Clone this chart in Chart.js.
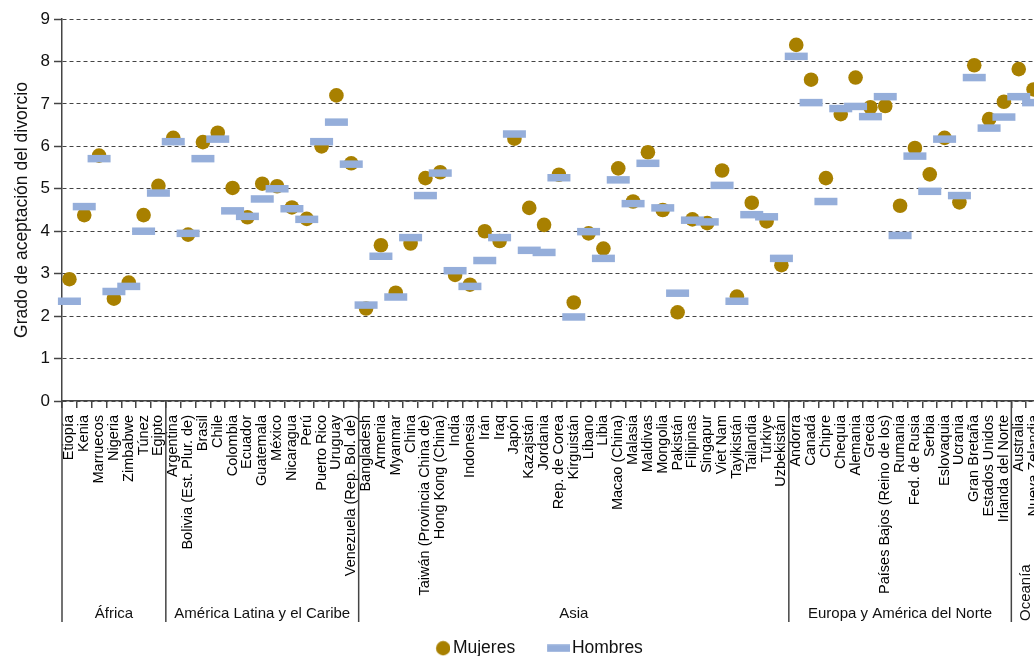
<!DOCTYPE html>
<html>
<head>
<meta charset="utf-8">
<script src="https://cdn.jsdelivr.net/npm/chart.js@4"></script>
<style>
html,body{margin:0;padding:0;background:#fff;overflow:hidden}
#wrap{width:1060px;height:680px}
</style>
</head>
<body>
<div id="wrap"><canvas id="c" width="1060" height="680"></canvas></div>
<script>
const categories = [
  'Etiopía','Kenia','Marruecos','Nigeria','Zimbabwe','Túnez','Egipto',
  'Argentina','Bolivia (Est. Plur. de)','Brasil','Chile','Colombia','Ecuador','Guatemala','México','Nicaragua','Perú','Puerto Rico','Uruguay','Venezuela (Rep. Bol. de)',
  'Bangladesh','Armenia','Myanmar','China','Taiwán (Provincia China de)','Hong Kong (China)','India','Indonesia','Irán','Iraq','Japón','Kazajstán','Jordania','Rep. de Corea','Kirguistán','Líbano','Libia','Macao (China)','Malasia','Maldivas','Mongolia','Pakistán','Filipinas','Singapur','Viet Nam','Tayikistán','Tailandia','Türkiye','Uzbekistán',
  'Andorra','Canadá','Chipre','Chequia','Alemania','Grecia','Países Bajos (Reino de los)','Rumania','Fed. de Rusia','Serbia','Eslovaquia','Ucrania','Gran Bretaña','Estados Unidos','Irlanda del Norte',
  'Australia','Nueva Zelandia'
];
const regionNames = ['África','América Latina y el Caribe','Asia','Europa y América del Norte','Oceanía'];
const regionSizes = [7, 13, 29, 15, 2];
const mujeres = [
  2.87,4.38,5.78,2.41,2.79,4.38,5.07,
  6.20,3.92,6.10,6.32,5.02,4.33,5.12,5.06,4.56,4.29,6.00,7.20,5.60,
  2.18,3.67,2.55,3.71,5.25,5.39,2.97,2.74,4.00,3.77,6.18,4.55,4.15,5.33,2.32,3.95,3.59,5.48,4.70,5.86,4.50,2.09,4.28,4.19,5.43,2.46,4.67,4.23,3.20,
  8.39,7.57,5.25,6.76,7.62,6.92,6.95,4.60,5.96,5.34,6.20,4.68,7.91,6.64,7.05,
  7.82,7.34
];
const hombres = [
  2.35,4.58,5.71,2.58,2.70,4.00,4.90,
  6.11,3.95,5.71,6.17,4.48,4.35,4.76,5.00,4.53,4.28,6.11,6.57,5.58,
  2.26,3.41,2.45,3.85,4.84,5.37,3.07,2.70,3.31,3.85,6.29,3.55,3.50,5.26,1.98,3.99,3.36,5.21,4.65,5.60,4.55,2.54,4.26,4.22,5.08,2.35,4.39,4.34,3.36,
  8.12,7.03,4.70,6.89,6.94,6.70,7.17,3.90,5.77,4.94,6.17,4.84,7.62,6.43,6.69,
  7.17,7.03
];
const yTicks = [0,1,2,3,4,5,6,7,8,9];
const seriesNames = ['Mujeres','Hombres'];
const yTitle = 'Grado de aceptación del divorcio';

const GOLD = '#A88000';
const BLUE = '#95AEDA';
const FAMILY = "'Liberation Sans', Arial, sans-serif";

function makeCircleIcon() {
  const c = document.createElement('canvas');
  c.width = 57; c.height = 16;
  const g = c.getContext('2d');
  g.fillStyle = GOLD;
  g.beginPath(); g.arc(50, 8, 7.2, 0, Math.PI * 2); g.fill();
  return c;
}
function makeBarIcon() {
  const c = document.createElement('canvas');
  c.width = 59; c.height = 8;
  const g = c.getContext('2d');
  g.fillStyle = BLUE;
  g.fillRect(36, 0.25, 23, 7.5);
  return c;
}
const legendIcons = [makeCircleIcon(), makeBarIcon()];
const legendColors = [GOLD, BLUE];

const regionPlugin = {
  id: 'regions',
  afterDraw(chart) {
    const xs = chart.scales.x, ctx = chart.ctx, area = chart.chartArea;
    const n = categories.length;
    const half = (xs.getPixelForValue(1) - xs.getPixelForValue(0)) / 2;
    const bnd = k => k < n ? xs.getPixelForValue(k) - half : xs.getPixelForValue(n - 1) + half;
    const y0 = area.bottom, y1 = area.bottom + 221;
    const bounds = [0];
    let acc = 0;
    regionSizes.forEach(s => { acc += s; bounds.push(acc); });
    ctx.save();
    ctx.strokeStyle = '#444';
    ctx.lineWidth = 1.5;
    bounds.forEach(k => {
      const px = bnd(k);
      ctx.beginPath(); ctx.moveTo(px, y0); ctx.lineTo(px, y1); ctx.stroke();
    });
    ctx.font = '15px ' + FAMILY;
    ctx.fillStyle = '#111';
    regionNames.forEach((name, i) => {
      const l = bnd(bounds[i]), r = bnd(bounds[i + 1]);
      const cx = (l + r) / 2;
      const w = ctx.measureText(name).width;
      if (w < r - l - 6) {
        ctx.textAlign = 'center'; ctx.textBaseline = 'middle';
        ctx.fillText(name, cx, y1 - 8);
      } else {
        ctx.save();
        ctx.translate(cx, y1 - 1);
        ctx.rotate(-Math.PI / 2);
        ctx.textAlign = 'left'; ctx.textBaseline = 'middle';
        ctx.fillText(name, 0, 0);
        ctx.restore();
      }
    });
    ctx.restore();
  }
};

new Chart(document.getElementById('c'), {
  type: 'line',
  data: {
    labels: categories,
    datasets: [
      {
        label: seriesNames[0], data: mujeres, showLine: false,
        pointStyle: 'circle', pointRadius: 7.3, pointHoverRadius: 7.3,
        pointBackgroundColor: GOLD, pointBorderColor: GOLD, pointBorderWidth: 0,
        borderColor: GOLD, backgroundColor: GOLD, order: 2, clip: false
      },
      {
        label: seriesNames[1], data: hombres, showLine: false,
        pointStyle: 'line', pointRadius: 11.5, pointHoverRadius: 11.5,
        pointBorderColor: BLUE, pointBorderWidth: 7.5, pointHoverBorderWidth: 7.5,
        borderColor: BLUE, backgroundColor: BLUE, order: 1, clip: false
      }
    ]
  },
  options: {
    responsive: false,
    animation: false,
    devicePixelRatio: 1,
    events: [],
    layout: { padding: { top: 18, bottom: 13, left: 0, right: 18 } },
    plugins: {
      tooltip: { enabled: false },
      title: { display: false },
      legend: {
        display: true, position: 'bottom', align: 'center',
        labels: {
          usePointStyle: true, pointStyleWidth: 45, boxHeight: 14, padding: 3,
          color: '#111', font: { family: FAMILY, size: 17.5 },
          generateLabels(chart) {
            return chart.data.datasets.map((ds, i) => ({
              text: ds.label, pointStyle: legendIcons[i], fillStyle: legendColors[i],
              strokeStyle: legendColors[i], lineWidth: 0, hidden: false,
              datasetIndex: i, fontColor: '#111'
            }));
          }
        }
      }
    },
    scales: {
      x: {
        type: 'category', offset: true,
        grid: { offset: true, drawOnChartArea: false, drawTicks: true, tickLength: 7,
                color: '#444', lineWidth: 1.5, tickColor: '#444', tickWidth: 1.5 },
        border: { display: true, color: '#444', width: 1.5 },
        ticks: { autoSkip: false, maxRotation: 90, minRotation: 90, padding: 7,
                 color: '#000', font: { family: FAMILY, size: 14.5 } },
        afterFit(s) { s.height = 235.5; s.paddingLeft = 0; s.paddingRight = 0; }
      },
      y: {
        min: yTicks[0], max: yTicks[yTicks.length - 1],
        ticks: { stepSize: 1, padding: 4, color: '#111', font: { family: FAMILY, size: 17 } },
        grid: { color: '#444', lineWidth: 1, drawTicks: true, tickLength: 8,
                tickColor: '#444', tickWidth: 1.5, tickBorderDash: [] },
        border: { display: true, color: '#444', width: 1.5, dash: [4, 3] },
        title: { display: true, text: yTitle, color: '#111',
                 font: { family: FAMILY, size: 17.5 }, padding: { top: 12, bottom: 0 } },
        afterFit(s) { s.width = 62; s.paddingTop = 0; s.paddingBottom = 0; }
      }
    }
  },
  plugins: [regionPlugin]
});
</script>
</body>
</html>
